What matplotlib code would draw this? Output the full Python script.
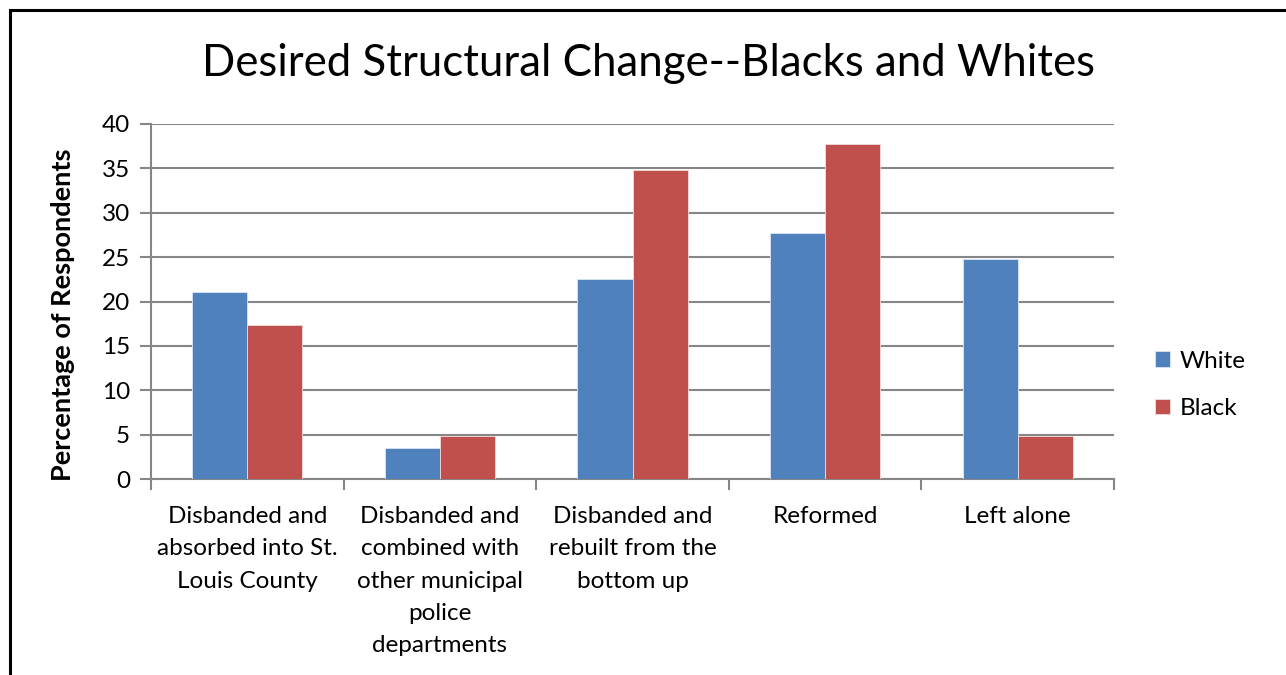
import matplotlib
matplotlib.use("Agg")
import matplotlib.pyplot as plt
from matplotlib.patches import Rectangle
import numpy as np

plt.rcParams['font.family'] = ['Lato', 'DejaVu Sans']

categories = [
    "Disbanded and\nabsorbed into St.\nLouis County",
    "Disbanded and\ncombined with\nother municipal\npolice\ndepartments",
    "Disbanded and\nrebuilt from the\nbottom up",
    "Reformed",
    "Left alone",
]
white = [21.1, 3.5, 22.5, 27.7, 24.8]
black = [17.3, 4.9, 34.8, 37.8, 4.9]
yticks = [0, 5, 10, 15, 20, 25, 30, 35, 40]

BLUE = "#4F81BD"
RED = "#C0504D"
GRID = "#868686"
FS = 17.5

fig = plt.figure(figsize=(12.86, 6.75), dpi=100)
ax = fig.add_axes([151 / 1286, 1 - 479 / 675, (1114 - 151) / 1286, (479 - 124) / 675])

x = np.arange(len(categories))
w = 0.2856
ax.bar(x - w / 2, white, width=w, color=BLUE, edgecolor="#dce6f2", linewidth=0.6,
       label="White", zorder=3)
ax.bar(x + w / 2, black, width=w, color=RED, edgecolor="#f2dcdb", linewidth=0.6,
       label="Black", zorder=3)

ax.set_xlim(-0.5, len(categories) - 0.5)
ax.set_ylim(0, 40)
ax.set_yticks(yticks)
ax.yaxis.grid(True, color=GRID, linewidth=1.5, zorder=0)
ax.set_axisbelow(True)

# category boundaries as major ticks, labels on minor ticks at the centres
ax.set_xticks(np.arange(-0.5, len(categories)), labels=[])
ax.set_xticks(x, labels=categories, minor=True)
for lbl in ax.get_xticklabels(minor=True):
    lbl.set_linespacing(1.66)
ax.tick_params(axis="x", which="major", length=8, width=1.5, color=GRID, direction="out")
ax.tick_params(axis="x", which="minor", length=0, pad=19.5, labelsize=FS)
ax.tick_params(axis="y", length=8, width=1.5, color=GRID, direction="out",
               labelsize=FS, pad=7)

for s in ["top", "right"]:
    ax.spines[s].set_visible(False)
for s in ["left", "bottom"]:
    ax.spines[s].set_color(GRID)
    ax.spines[s].set_linewidth(1.5)

ax.set_ylabel("Percentage of Respondents", fontsize=19.5, fontweight="bold")
ax.yaxis.label.set_va("center")
ax.yaxis.set_label_coords(-0.0914, 0.462)

fig.text(648 / 1286, 1 - 64 / 675, "Desired Structural Change--Blacks and Whites",
         ha="center", va="center", fontsize=31.5)

leg = ax.legend(loc="center left", bbox_to_anchor=(1.02, 0.265), frameon=False,
                fontsize=FS, handlelength=0.6, handleheight=0.6, handletextpad=0.4,
                labelspacing=1.1)

# outer frame
fig.patches.append(Rectangle((9.5 / 1286, -0.1), 1.2, 1 - 9.5 / 675 + 0.1,
                             transform=fig.transFigure, fill=False,
                             edgecolor="black", linewidth=2.2))

fig.savefig("out.png", dpi=100)
